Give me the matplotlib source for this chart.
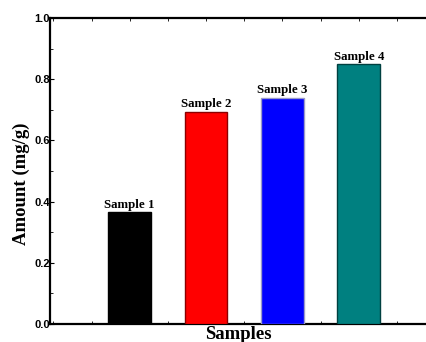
import matplotlib
matplotlib.use('Agg')
import matplotlib.pyplot as plt
from matplotlib.ticker import MultipleLocator

# Data
samples = ['Sample 1', 'Sample 2', 'Sample 3', 'Sample 4']
amounts = [0.365, 0.694, 0.739, 0.849]
bar_colors = ['#000000', '#ff0000', '#0000ff', '#008080']
edge_colors = ['#000000', '#8b0000', '#9a9ac8', '#004040']

fig = plt.figure(figsize=(4.27, 3.42), dpi=100)
ax = fig.add_axes([0.117, 0.0526, 0.883, 0.8947])

x = list(range(1, len(samples) + 1))
bars = ax.bar(x, amounts, width=0.56, color=bar_colors, edgecolor=edge_colors, linewidth=1.0, zorder=3)

for xi, val, name in zip(x, amounts, samples):
    ax.text(xi, val + 0.005, name, ha='center', va='bottom',
            fontfamily='Liberation Serif', fontweight='bold', fontsize=9.3)

ax.set_xlim(-0.045, 4.895)
ax.set_ylim(0, 1.0)

ax.yaxis.set_major_locator(MultipleLocator(0.2))
ax.yaxis.set_minor_locator(MultipleLocator(0.1))
ax.xaxis.set_major_locator(MultipleLocator(0.5))
ax.set_xticklabels([])
ax.tick_params(axis='x', which='both', direction='in', top=True, bottom=True, length=2.5, width=0.6)
ax.tick_params(axis='y', which='major', direction='in', length=3, width=0.8, pad=0)
ax.tick_params(axis='y', which='minor', direction='in', length=2, width=0.6)
for lbl in ax.get_yticklabels():
    lbl.set_fontfamily('Liberation Sans')
    lbl.set_fontweight('bold')
    lbl.set_fontsize(8)

ax.spines['right'].set_visible(False)
for side in ['left', 'top', 'bottom']:
    ax.spines[side].set_linewidth(1.6)

ax.set_ylabel('Amount (mg/g)', fontfamily='Liberation Serif', fontweight='bold', fontsize=13.5)
ax.yaxis.set_label_coords(-0.052, 0.46)
ax.set_xlabel('Samples', fontfamily='Liberation Serif', fontweight='bold', fontsize=13.5, labelpad=-2)

fig.savefig('out.png', dpi=100)
